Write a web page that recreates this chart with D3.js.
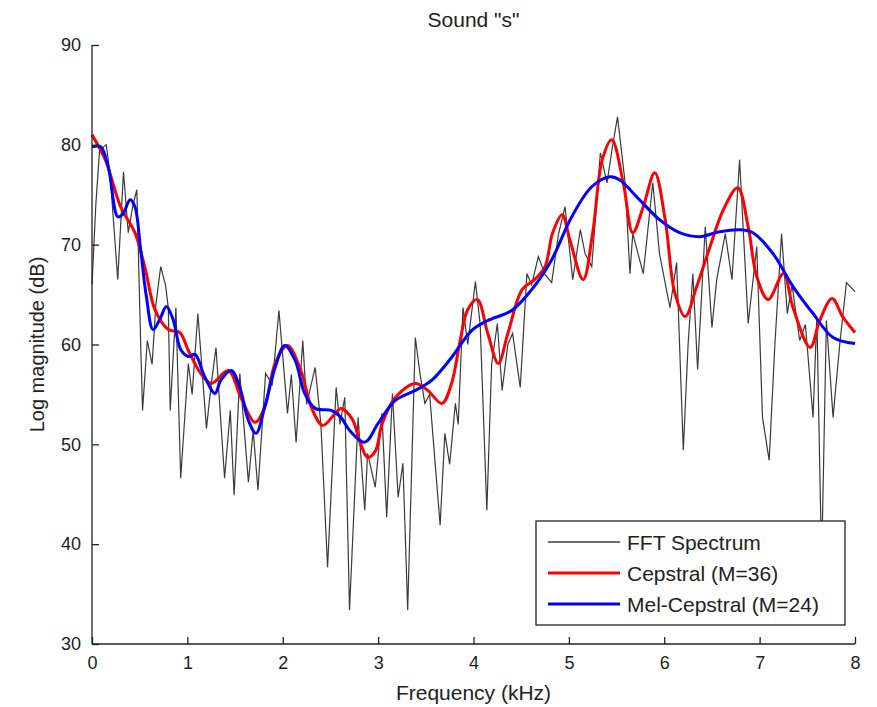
<!DOCTYPE html>
<html>
<head>
<meta charset="utf-8">
<script src="https://cdn.jsdelivr.net/npm/d3@7"></script>
<style>
  body { margin: 0; background: #fff; }
  text { font-family: "Liberation Sans", Arial, sans-serif; fill: #222; }
</style>
</head>
<body>
<script>
// FFT spectrum (kHz, dB)
const fftKHz = [0.00,0.04,0.08,0.15,0.19,0.27,0.33,0.38,0.43,0.47,0.51,0.53,0.58,0.63,0.67,0.72,0.77,0.80,0.82,0.88,
  0.93,1.01,1.05,1.11,1.20,1.25,1.30,1.39,1.45,1.49,1.55,1.64,1.69,1.74,1.82,1.89,1.96,2.05,2.09,2.14,
  2.21,2.25,2.34,2.40,2.47,2.56,2.60,2.65,2.70,2.79,2.86,2.89,2.97,3.04,3.09,3.15,3.21,3.26,3.31,3.39,
  3.44,3.49,3.54,3.65,3.70,3.75,3.81,3.84,3.89,3.94,4.02,4.07,4.14,4.19,4.25,4.30,4.36,4.41,4.49,4.56,
  4.61,4.68,4.75,4.82,4.89,4.96,5.04,5.12,5.17,5.24,5.33,5.40,5.46,5.51,5.59,5.64,5.67,5.78,5.88,5.95,
  6.06,6.13,6.20,6.25,6.30,6.35,6.43,6.50,6.55,6.64,6.71,6.79,6.88,6.97,7.03,7.10,7.16,7.23,7.29,7.34,
  7.42,7.48,7.56,7.60,7.65,7.70,7.77,7.84,7.91,8.00];
const fftDb = [66,74,79.5,80,77,66.5,77.3,71.2,74,75.5,60.2,53.4,60.4,58,64,67.8,66,63.7,53.4,63.7,
  46.6,58.1,55,63.1,51.6,56,59.7,46.6,53.4,44.9,57.1,46.2,51.4,45.4,57.1,56,63.4,53.1,57,50.2,
  60.4,54,57.7,52,37.7,55.7,52,54.7,33.4,52.7,43.4,49.1,45.7,53.1,42.7,55.1,44.7,48.1,33.4,60.7,
  57,54.1,55,41.9,51.1,48,54.1,52,63.7,60,66.3,62,43.4,58,62.1,55.4,60,61.1,55.7,67.1,
  66,68.8,67,66.2,71,73.8,66.5,71.5,69.1,67.8,79.2,76.2,80,82.8,76.2,67.1,71.1,67.1,76.2,69.1,
  63.7,68.2,49.4,60,67.1,57.5,71.8,61.7,66.5,71.1,66.5,78.5,62.1,69.8,52.7,48.4,60,71.1,63.1,66,
  60.4,62,52.7,62.8,38,62.4,52.7,60,66.2,65.3];

// Cepstral envelope, M=36
const cepKHz = [0.00,0.14,0.30,0.45,0.56,0.66,0.80,0.92,1.01,1.14,1.25,1.43,1.56,1.71,1.81,1.92,2.05,2.19,2.30,2.42,
  2.55,2.61,2.73,2.81,2.89,2.97,3.04,3.18,3.39,3.52,3.67,3.77,3.86,3.94,4.04,4.15,4.26,4.36,4.51,4.64,
  4.75,4.83,4.93,5.01,5.15,5.25,5.35,5.45,5.57,5.67,5.78,5.90,6.01,6.11,6.22,6.34,6.48,6.62,6.77,6.88,
  6.97,7.09,7.25,7.35,7.53,7.63,7.76,7.87,8.00];
const cepDb = [81,78.5,73.8,71.2,67.5,63.5,61.5,61.2,59.4,57.1,56.1,57.4,54.7,52.2,53.7,58.1,59.9,57.4,53.7,51.9,
  53.1,53.6,52.5,50.2,48.7,49.3,52,54.7,56.1,55.4,54.1,56.1,60.4,63.5,64.5,61.1,58.1,61.1,65.5,66.5,
  67.8,71.2,73,70.5,66.5,71.2,78.5,80.5,76.2,71.2,73.8,77.2,72.5,65.2,62.8,65.8,69.8,73.5,75.7,71.8,
  66.8,64.5,67.1,63.7,59.7,62.4,64.6,62.8,61.2];

// Mel-cepstral envelope, M=24
const melKHz = [0.00,0.09,0.17,0.27,0.32,0.40,0.45,0.51,0.57,0.64,0.71,0.78,0.85,0.93,1.01,1.08,1.18,1.29,1.35,1.46,
  1.55,1.64,1.72,1.81,1.92,2.02,2.13,2.23,2.34,2.51,2.61,2.70,2.86,3.00,3.18,3.39,3.56,3.77,3.98,4.15,
  4.40,4.61,4.82,5.03,5.24,5.43,5.53,5.74,5.95,6.16,6.37,6.58,6.79,6.93,7.14,7.35,7.56,7.77,8.00];
const melDb = [79.8,79.8,77.8,72.8,73,74.5,73.8,69.5,64.8,61.5,62.5,63.8,62.5,59.5,58.8,59,56.8,55.1,56.4,57.4,
  55.7,52.4,51.1,53.7,57.7,59.9,58.4,55.1,53.6,53.4,52.7,51.4,50.2,52.1,54.4,55.4,56.4,58.7,61.4,62.4,
  63.4,65.5,68.5,72.8,75.8,76.8,76.5,74.5,72.5,71.2,70.8,71.3,71.5,71.2,69.1,65.8,63.1,60.7,60.1];

const xTicks = [0,1,2,3,4,5,6,7,8];
const yTicks = [30,40,50,60,70,80,90];
const seriesNames = ["FFT Spectrum", "Cepstral (M=36)", "Mel-Cepstral (M=24)"];
const seriesColors = ["#3a3a3a", "#ff0000", "#0000ff"];

const width = 877;
const height = 707;
const margin = {top: 45, right: 22, bottom: 63, left: 92};

const svg = d3.select("body").append("svg")
  .attr("width", width)
  .attr("height", height);

const x = d3.scaleLinear().domain([0, 8]).range([margin.left, width - margin.right]);
const y = d3.scaleLinear().domain([30, 90]).range([height - margin.bottom, margin.top]);

const zip = (xs, ys) => xs.map((v, i) => [v, ys[i]]);

// lines
const lineRaw = d3.line().x(d => x(d[0])).y(d => y(d[1]));
const lineSmooth = d3.line().x(d => x(d[0])).y(d => y(d[1])).curve(d3.curveCatmullRom.alpha(0.5));

svg.append("path")
  .datum(zip(fftKHz, fftDb))
  .attr("fill", "none")
  .attr("stroke", seriesColors[0])
  .attr("stroke-width", 1.2)
  .attr("d", lineRaw);

svg.append("path")
  .datum(zip(cepKHz, cepDb))
  .attr("fill", "none")
  .attr("stroke", seriesColors[1])
  .attr("stroke-width", 3)
  .attr("d", lineSmooth);

svg.append("path")
  .datum(zip(melKHz, melDb))
  .attr("fill", "none")
  .attr("stroke", seriesColors[2])
  .attr("stroke-width", 3)
  .attr("d", lineSmooth);

// axes, MATLAB style: box off, ticks inside
const xAxis = svg.append("g")
  .attr("transform", `translate(0,${height - margin.bottom})`)
  .call(d3.axisBottom(x).tickValues(xTicks).tickSize(-7).tickPadding(12).tickFormat(d3.format("d")));

const yAxis = svg.append("g")
  .attr("transform", `translate(${margin.left},0)`)
  .call(d3.axisLeft(y).tickValues(yTicks).tickSize(-7).tickPadding(11).tickFormat(d3.format("d")));

[xAxis, yAxis].forEach(g => {
  g.select(".domain").attr("stroke", "#222").attr("stroke-width", 1.3);
  g.selectAll(".tick line").attr("stroke", "#222").attr("stroke-width", 1.3);
  g.selectAll(".tick text").attr("font-size", 18).attr("fill", "#222")
    .style("font-family", "'Liberation Sans', Arial, sans-serif");
});
// domain paths have outer ticks of size 0 -> redraw plain
xAxis.select(".domain").attr("d", `M${x(0)},0H${x(8)}`);
yAxis.select(".domain").attr("d", `M0,${y(30)}V${y(90)}`);

// title and labels
svg.append("text")
  .attr("x", (x(0) + x(8)) / 2)
  .attr("y", 27)
  .attr("text-anchor", "middle")
  .attr("font-size", 21)
  .text('Sound "s"');

svg.append("text")
  .attr("x", (x(0) + x(8)) / 2)
  .attr("y", 700)
  .attr("text-anchor", "middle")
  .attr("font-size", 21)
  .text("Frequency (kHz)");

svg.append("text")
  .attr("transform", `translate(44,${(y(30) + y(90)) / 2}) rotate(-90)`)
  .attr("text-anchor", "middle")
  .attr("font-size", 20)
  .text("Log magnitude (dB)");

// legend
const legend = svg.append("g").attr("transform", "translate(536,521)");
legend.append("rect")
  .attr("width", 309)
  .attr("height", 104)
  .attr("fill", "#fff")
  .attr("stroke", "#222")
  .attr("stroke-width", 1.3);

const rows = legend.selectAll("g.row")
  .data(seriesNames)
  .join("g")
  .attr("class", "row")
  .attr("transform", (d, i) => `translate(0,${21 + i * 31})`);

rows.append("line")
  .attr("x1", 12).attr("x2", 84)
  .attr("stroke", (d, i) => seriesColors[i])
  .attr("stroke-width", (d, i) => i === 0 ? 1.3 : 3);

rows.append("text")
  .attr("x", 91)
  .attr("dy", "0.36em")
  .attr("font-size", 21)
  .text(d => d);
</script>
</body>
</html>
